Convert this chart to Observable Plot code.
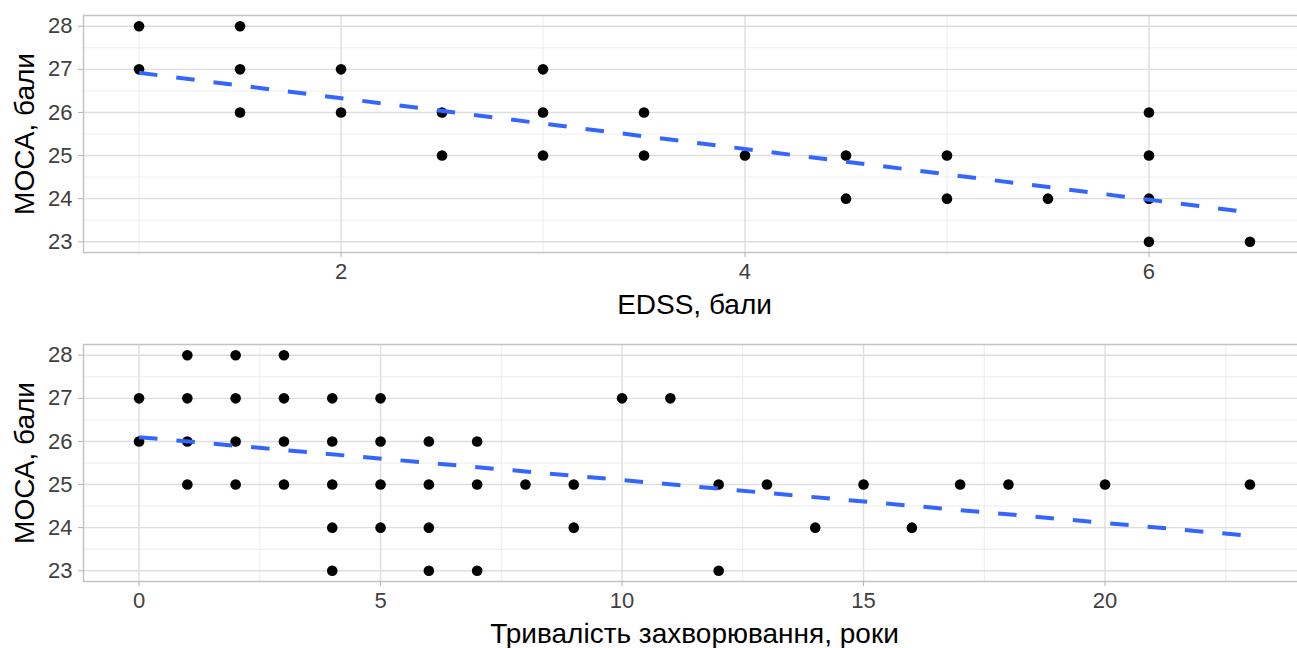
<!DOCTYPE html>
<html>
<head>
<meta charset="utf-8">
<script src="https://cdn.jsdelivr.net/npm/d3@7"></script>
<script src="https://cdn.jsdelivr.net/npm/@observablehq/plot@0.6"></script>
<style>
  html, body { margin: 0; padding: 0; background: #fff; overflow: hidden; }
  #chart svg { display: block; overflow: hidden; }
</style>
</head>
<body>
<div id="chart"></div>
<script>
// MOCA score against EDSS
const edssX    = [1, 1, 1.5, 1.5, 1.5, 2, 2, 2.5, 2.5, 3, 3, 3, 3.5, 3.5, 4, 4.5, 4.5, 5, 5, 5.5, 6, 6, 6, 6, 6.5];
const edssMoca = [28, 27, 28, 27, 26, 27, 26, 26, 25, 27, 26, 25, 26, 25, 25, 25, 24, 25, 24, 24, 26, 25, 24, 23, 23];
// fitted linear trend (end points)
const edssFitX = [1, 6.5];
const edssFitY = [26.92, 23.68];

// MOCA score against disease duration (years)
const durX    = [0, 0, 1, 1, 1, 1, 2, 2, 2, 2, 3, 3, 3, 3, 4, 4, 4, 4, 4, 5, 5, 5, 5, 6, 6, 6, 6,
                 7, 7, 7, 8, 9, 9, 10, 11, 12, 12, 13, 14, 15, 16, 17, 18, 20, 23];
const durMoca = [27, 26, 28, 27, 26, 25, 28, 27, 26, 25, 28, 27, 26, 25, 27, 26, 25, 24, 23, 27, 26, 25, 24, 26, 25, 24, 23,
                 26, 25, 23, 25, 25, 24, 27, 27, 25, 23, 25, 24, 25, 24, 25, 25, 25, 25];
const durFitX = [0, 23];
const durFitY = [26.10, 23.81];

// axis breaks
const mocaTicks = [23, 24, 25, 26, 27, 28];
const mocaMinor = [23.5, 24.5, 25.5, 26.5, 27.5];
const edssTicks = [2, 4, 6];
const edssMinor = [1, 3, 5];
const durTicks  = [0, 5, 10, 15, 20];
const durMinor  = [2.5, 7.5, 12.5, 17.5, 22.5];

const yTitle = "МОСА, бали";
const edssTitle = "EDSS, бали";
const durTitle = "Тривалість захворювання, роки";

const FONT = "'Liberation Sans', Arial, Helvetica, sans-serif";

function panel({xs, ys, fitX, fitY, xDomain, xTicks, xMinor, xTitle, marginTop, marginBottom}) {
  const pts = xs.map((x, i) => ({x, y: ys[i]}));
  const fit = fitX.map((x, i) => ({x, y: fitY[i]}));
  return Plot.plot({
    width: 1297,
    height: 324,
    marginLeft: 83,
    marginRight: -8,
    marginTop,
    marginBottom,
    style: {fontFamily: FONT, background: "white", overflow: "hidden"},
    x: {domain: xDomain},
    y: {domain: [22.75, 28.25]},
    marks: [
      Plot.gridY(mocaMinor, {stroke: "#ececec", strokeOpacity: 1, strokeWidth: 1}),
      Plot.gridX(xMinor, {stroke: "#ececec", strokeOpacity: 1, strokeWidth: 1}),
      Plot.gridY(mocaTicks, {stroke: "#dedede", strokeOpacity: 1, strokeWidth: 1.4}),
      Plot.gridX(xTicks, {stroke: "#dedede", strokeOpacity: 1, strokeWidth: 1.4}),
      Plot.frame({stroke: "#c4c4c4", strokeWidth: 1.5}),
      Plot.axisY(mocaTicks, {
        tickSize: 5, tickPadding: 6, stroke: "#b3b3b3", fill: "#404040",
        fontSize: 22, label: null, tickFormat: (d) => String(d)
      }),
      Plot.axisX(xTicks, {
        tickSize: 5, tickPadding: 6, stroke: "#b3b3b3", fill: "#404040",
        fontSize: 22, label: null, tickFormat: (d) => String(d)
      }),
      Plot.dot(pts, {x: "x", y: "y", r: 5.3, fill: "black", stroke: null}),
      Plot.line(fit, {
        x: "x", y: "y", stroke: "#3366FF", strokeWidth: 4,
        strokeDasharray: "18.5,19", strokeLinecap: "butt"
      }),
      Plot.text([yTitle], {
        frameAnchor: "left", rotate: -90, dx: -58, textAnchor: "middle", lineAnchor: "middle",
        fontSize: 28, fill: "black"
      }),
      Plot.text([xTitle], {
        frameAnchor: "bottom", dy: 53, textAnchor: "middle", lineAnchor: "middle",
        fontSize: 28, fill: "black"
      })
    ]
  });
}

const chart = document.getElementById("chart");
chart.append(panel({
  xs: edssX, ys: edssMoca, fitX: edssFitX, fitY: edssFitY,
  xDomain: [0.725, 6.775], xTicks: edssTicks, xMinor: edssMinor,
  xTitle: edssTitle, marginTop: 15, marginBottom: 72
}));
chart.append(panel({
  xs: durX, ys: durMoca, fitX: durFitX, fitY: durFitY,
  xDomain: [-1.15, 24.15], xTicks: durTicks, xMinor: durMinor,
  xTitle: durTitle, marginTop: 20, marginBottom: 67
}));
</script>
</body>
</html>
